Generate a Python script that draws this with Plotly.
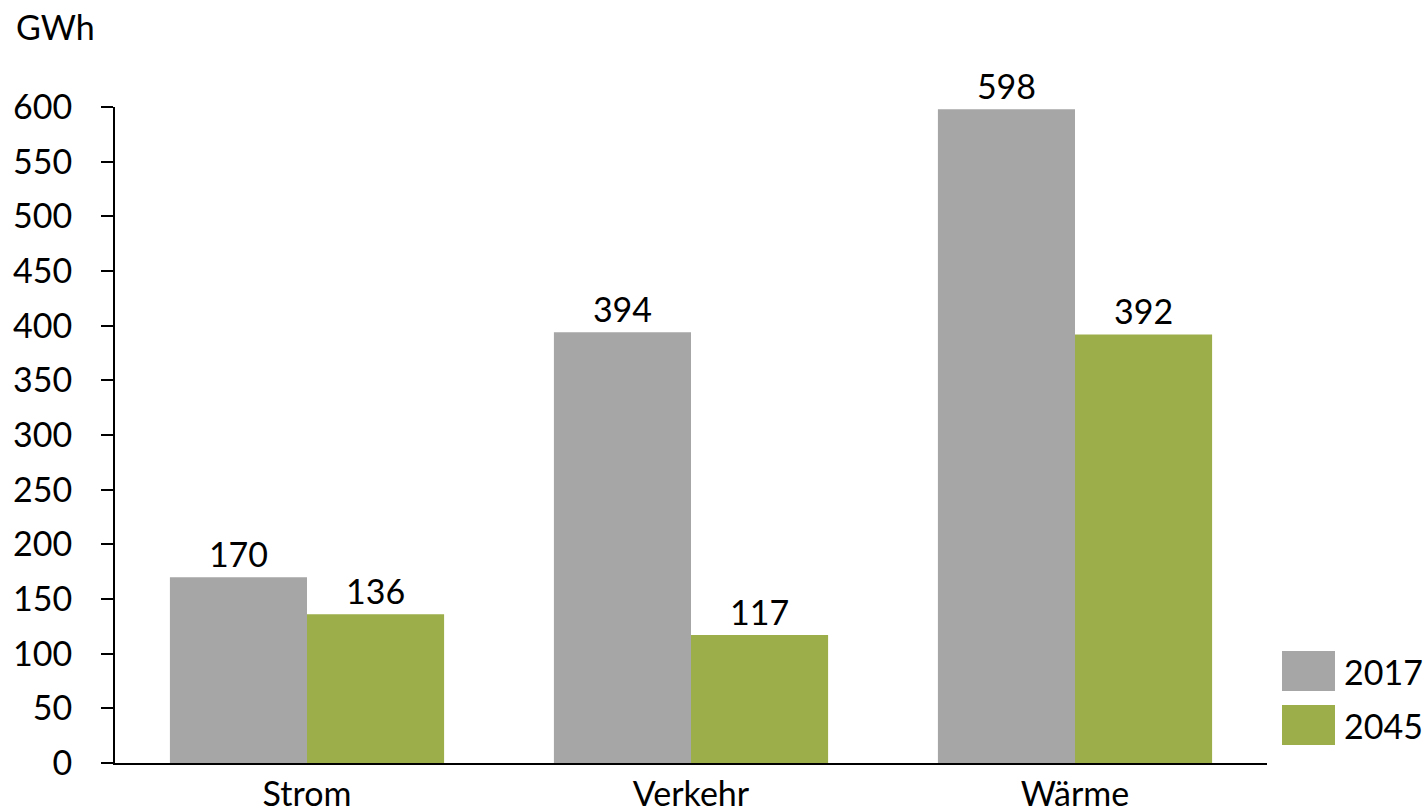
import plotly.graph_objects as go

categories = ["Strom", "Verkehr", "Wärme"]
series_names = ["2017", "2045"]
values_2017 = [170, 394, 598]
values_2045 = [136, 117, 392]
y_ticks = list(range(0, 601, 50))
unit_label = "GWh"

colors = ["#A6A6A6", "#9BAE4A"]
FONT = "Lato"
FS = 34

PL, PR, PT, PB = 115, 1267, 107, 763
W, H = 1426, 812
PW, PH = PR - PL, PB - PT

fig = go.Figure()
for name, vals, col in zip(series_names, [values_2017, values_2045], colors):
    fig.add_trace(go.Bar(
        x=categories, y=vals, name=name, marker_color=col, marker_line_width=0,
        text=[str(v) for v in vals], textposition="outside", cliponaxis=False,
        textfont=dict(family=FONT, size=FS, color="black"),
    ))

fig.update_layout(
    width=W, height=H,
    margin=dict(l=PL, r=W - PR, t=PT, b=H - PB, autoexpand=False),
    barmode="group", bargap=0.286, bargroupgap=0,
    plot_bgcolor="white", paper_bgcolor="white",
    showlegend=False,
    font=dict(family=FONT, size=FS, color="black"),
)
fig.update_xaxes(showline=True, linecolor="black", linewidth=2, ticks="", showgrid=False,
                 automargin=False, tickfont=dict(family=FONT, size=FS), ticklabelstandoff=0)
fig.update_yaxes(range=[0, 600], tickvals=y_ticks, showline=True, linecolor="black", linewidth=2,
                 ticks="outside", ticklen=12, tickwidth=2, tickcolor="black", showgrid=False,
                 automargin=False, zeroline=False, tickfont=dict(family=FONT, size=FS),
                 ticklabelstandoff=22)


def px(x):
    return (x - PL) / PW


def py(y):
    return 1 - (y - PT) / PH


fig.add_annotation(text=unit_label, xref="paper", yref="paper", x=px(14), y=py(27),
                   xanchor="left", yanchor="middle", showarrow=False,
                   font=dict(family=FONT, size=FS))

# legend drawn as boxes
for i, (name, col) in enumerate(zip(series_names, colors)):
    top = 651 + i * 54
    bot = 691 + i * 54
    fig.add_shape(type="rect", xref="paper", yref="paper", x0=px(1282), x1=px(1335),
                  y0=py(bot), y1=py(top), fillcolor=col, line_width=0)
    fig.add_annotation(text=name, xref="paper", yref="paper", x=px(1342),
                       y=py((top + bot) / 2), xanchor="left", yanchor="middle", showarrow=False,
                       font=dict(family=FONT, size=FS))

fig.write_html(
    "out.html",
    config={"displayModeBar": False},
    post_script="document.body.style.margin='0';document.body.style.overflow='hidden';",
)
